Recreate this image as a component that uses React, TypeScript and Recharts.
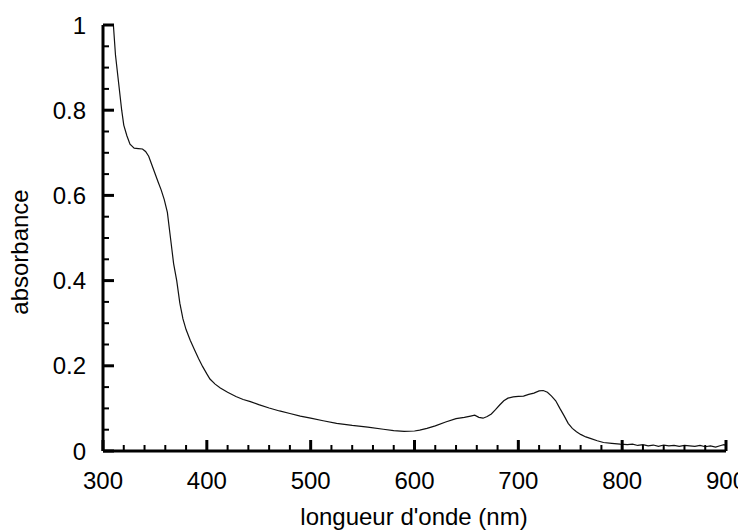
import React from 'react';
import { LineChart, Line, XAxis, YAxis, Label } from 'recharts';

const wavelengths = [
  308, 310, 312, 315, 318, 320, 323, 326, 330, 334, 338, 341, 344, 347, 350, 353, 356, 359, 362, 364,
  366, 368, 371, 374, 377, 380, 384, 388, 392, 396, 400, 403, 408, 413, 420, 428, 435, 442, 450, 460,
  470, 480, 490, 500, 512, 525, 540, 555, 570, 580, 590, 600, 605, 612, 620, 630, 640, 648, 654, 658,
  662, 666, 670, 674, 678, 682, 686, 690, 695, 700, 705, 710, 715, 720, 724, 728, 732, 736, 740, 744,
  748, 752, 756, 760, 765, 770, 776, 782, 790, 798, 805, 810, 815, 820, 825, 830, 835, 840, 845, 850,
  855, 860, 865, 870, 875, 880, 885, 890, 895, 898, 900,
];
const absorbance = [
  1.06, 1.0, 0.93, 0.865, 0.8, 0.765, 0.74, 0.72, 0.711, 0.71, 0.709, 0.703, 0.692, 0.672, 0.652, 0.632, 0.613, 0.59, 0.56, 0.52,
  0.48, 0.44, 0.4, 0.347, 0.31, 0.285, 0.26, 0.238, 0.217, 0.198, 0.181, 0.169, 0.157, 0.148, 0.138, 0.128, 0.121, 0.116, 0.109, 0.101,
  0.094, 0.088, 0.082, 0.077, 0.071, 0.065, 0.06, 0.056, 0.051, 0.048, 0.046, 0.047, 0.049, 0.053, 0.059, 0.068, 0.076, 0.079, 0.082, 0.084,
  0.079, 0.077, 0.081, 0.087, 0.097, 0.108, 0.118, 0.124, 0.127, 0.128, 0.129, 0.133, 0.136, 0.141, 0.142, 0.138, 0.129, 0.118, 0.1, 0.083,
  0.065, 0.053, 0.045, 0.039, 0.033, 0.029, 0.024, 0.02, 0.018, 0.016, 0.015, 0.016, 0.013, 0.015, 0.012, 0.014, 0.011, 0.014, 0.012, 0.013,
  0.011, 0.013, 0.012, 0.011, 0.013, 0.01, 0.012, 0.009, 0.013, 0.015, 0.013,
];

const xTicks = [300, 320, 340, 360, 380, 400, 420, 440, 460, 480, 500, 520, 540, 560, 580, 600, 620, 640, 660, 680, 700, 720, 740, 760, 780, 800, 820, 840, 860, 880, 900];
const yTicks = [0, 0.05, 0.1, 0.15, 0.2, 0.25, 0.3, 0.35, 0.4, 0.45, 0.5, 0.55, 0.6, 0.65, 0.7, 0.75, 0.8, 0.85, 0.9, 0.95, 1];

const data = wavelengths.map((w, i) => ({ w, a: absorbance[i] }));

const FONT = '"Liberation Sans", Arial, sans-serif';
const FS = 24;

const isMultiple = (v: number, step: number) => Math.abs(v / step - Math.round(v / step)) < 1e-6;

const XTick = (props: any) => {
  const { x, y, payload } = props;
  const v = payload.value as number;
  const major = isMultiple(v, 100);
  return (
    <g>
      <line x1={x} x2={x} y1={y} y2={y - (major ? 11 : 6)} stroke="#000" strokeWidth={major ? 3 : 2} />
      {major && (
        <text x={x} y={y + 29} textAnchor="middle" dominantBaseline="central" fontFamily={FONT} fontSize={FS} fill="#000">
          {v}
        </text>
      )}
    </g>
  );
};

const YTick = (props: any) => {
  const { x, y, payload } = props;
  const v = payload.value as number;
  const major = isMultiple(v, 0.2);
  const label = Math.abs(v) < 1e-9 ? '0' : Math.abs(v - 1) < 1e-9 ? '1' : String(Math.round(v * 10) / 10);
  return (
    <g>
      <line x1={x} x2={x + (major ? 11 : 6)} y1={y} y2={y} stroke="#000" strokeWidth={major ? 3 : 2} />
      {major && (
        <text x={x - 17} y={y} textAnchor="end" dominantBaseline="central" fontFamily={FONT} fontSize={FS} fill="#000">
          {label}
        </text>
      )}
    </g>
  );
};

export default function App() {
  return (
    <LineChart width={738} height={523} data={data} margin={{ top: 17, right: 20, left: 0, bottom: 0 }}>
      <XAxis
        dataKey="w"
        type="number"
        domain={[300, 900]}
        ticks={xTicks}
        interval={0}
        allowDataOverflow
        tickSize={0}
        tickMargin={0}
        tick={<XTick />}
        height={80}
        axisLine={{ stroke: '#000', strokeWidth: 3 }}
      >
        <Label
          content={() => (
            <text x={406} y={517} textAnchor="middle" fontFamily={FONT} fontSize={FS} fill="#000">
              longueur d'onde (nm)
            </text>
          )}
        />
      </XAxis>
      <YAxis
        type="number"
        domain={[0, 1]}
        ticks={yTicks}
        interval={0}
        allowDataOverflow
        tickSize={0}
        tickMargin={0}
        tick={<YTick />}
        width={95}
        axisLine={{ stroke: '#000', strokeWidth: 3 }}
      >
        <Label
          content={() => (
            <text transform="translate(20,244) rotate(-90)" textAnchor="middle" fontFamily={FONT} fontSize={FS} fill="#000">
              absorbance
            </text>
          )}
        />
      </YAxis>
      <Line dataKey="a" type="linear" stroke="#111" strokeWidth={1.2} dot={false} isAnimationActive={false} />
    </LineChart>
  );
}
